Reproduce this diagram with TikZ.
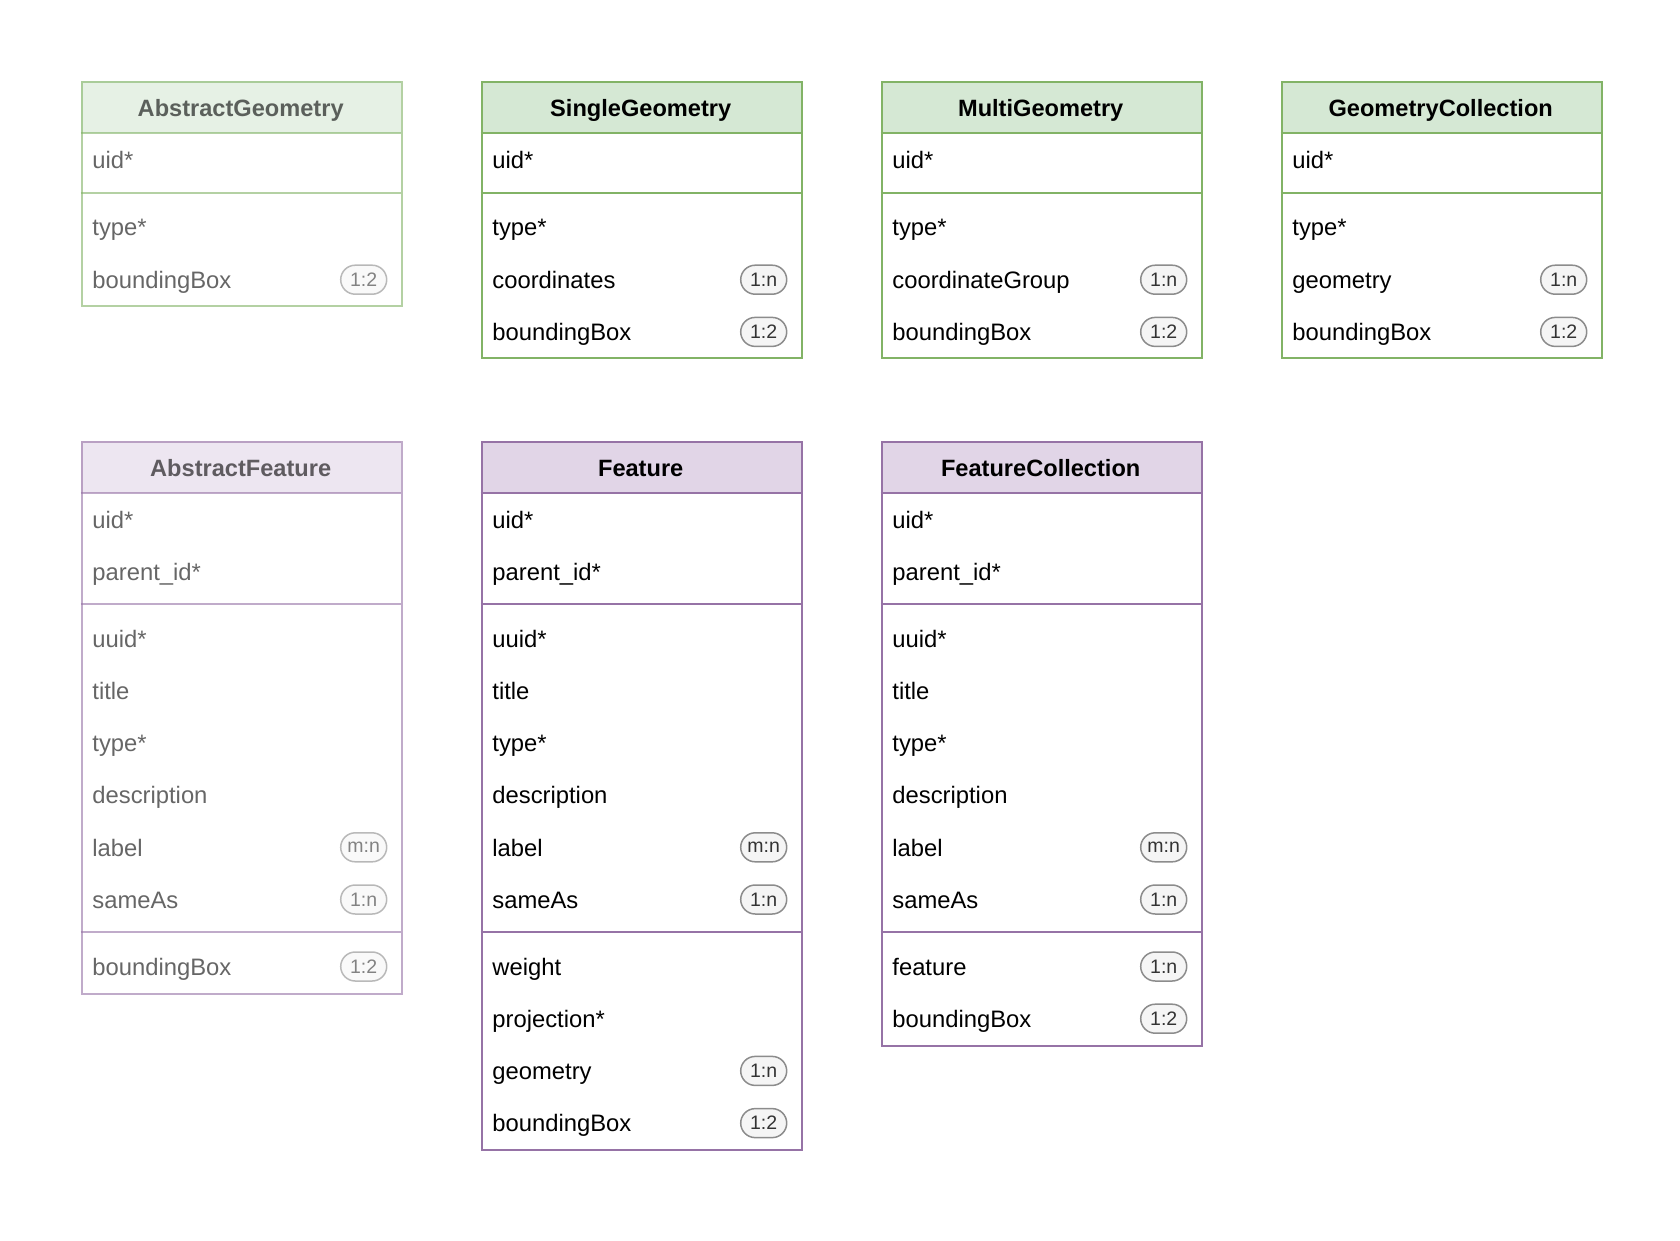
\documentclass[tikz,border=0pt]{standalone}
\usepackage{fontspec}
\setmainfont{Liberation Sans}
\definecolor{gfill}{HTML}{D5E8D4}
\definecolor{gdraw}{HTML}{82B366}
\definecolor{pfill}{HTML}{E1D5E7}
\definecolor{pdraw}{HTML}{9673A6}
\definecolor{bfill}{HTML}{F5F5F5}
\definecolor{bdraw}{HTML}{8C8C8C}
\definecolor{btext}{HTML}{333333}
\tikzset{
  tbltitle/.style={font=\fontsize{23.6}{28}\selectfont\bfseries, anchor=base, inner sep=0pt},
  tblrow/.style={font=\fontsize{23.8}{28}\selectfont, anchor=base west, inner sep=0pt},
  badge/.style={draw=bdraw, fill=bfill, line width=1.5pt, rounded corners=14.5pt,
    minimum width=46pt, minimum height=29pt, inner sep=0pt,
    font=\fontsize{19.5}{22}\selectfont, text=btext},
  tblframe/.style={draw=#1, line width=2pt, inner sep=0pt, anchor=north west},
  tblsep/.style={draw=#1, line width=2pt},
}
% #1 id, #2 x, #3 top, #4 bottom, #5 colour prefix (g/p), #6 title
\newcommand\erbox[6]{%
  \fill[#5fill] (#2,#3) rectangle (#2+320,#3+52);
  \draw[tblsep=#5draw] (#2,#3+52) -- (#2+320,#3+52);
  \node[tblframe=#5draw, minimum width=320pt, minimum height=#4pt-#3pt] (#1) at (#2,#3) {};
  \node[tbltitle] (#1-t) at (#2+160,#3+35) {#6};
}
\newcommand\ersep[4]{\draw[tblsep=#4draw] (#2,#3) -- (#2+320,#3);}
\newcommand\errows[3]{%
  \foreach \t/\yy [count=\i] in {#3} {\node[tblrow] (#1-r\i) at (#2+11.5,\yy+8.8) {\t};}%
}
\newcommand\erbadge[4]{\node[badge] (#1) at (#2+283,#3) {#4};}
\begin{document}
\begin{tikzpicture}[x=1pt,y=-1pt]
\useasboundingbox (0,0) rectangle (1680,1240);
% ---------------- geometry row ----------------
\begin{scope}[opacity=0.6]
\erbox{ag}{80.7}{81}{305}{g}{AbstractGeometry}
\ersep{ag}{80.7}{192.7}{g}
\errows{ag}{80.7}{uid*/160, type*/227, boundingBox/279.7}
\erbadge{ag-b1}{80.7}{279.7}{1:2}
\end{scope}

\erbox{sg}{480.7}{81}{356.5}{g}{SingleGeometry}
\ersep{sg}{480.7}{192.7}{g}
\errows{sg}{480.7}{uid*/160, type*/227, coordinates/279.7, boundingBox/331.9}
\erbadge{sg-b1}{480.7}{279.7}{1:n}
\erbadge{sg-b2}{480.7}{331.9}{1:2}

\erbox{mg}{880.7}{81}{356.5}{g}{MultiGeometry}
\ersep{mg}{880.7}{192.7}{g}
\errows{mg}{880.7}{uid*/160, type*/227, coordinateGroup/279.7, boundingBox/331.9}
\erbadge{mg-b1}{880.7}{279.7}{1:n}
\erbadge{mg-b2}{880.7}{331.9}{1:2}

\erbox{gc}{1280.7}{81}{356.5}{g}{GeometryCollection}
\ersep{gc}{1280.7}{192.7}{g}
\errows{gc}{1280.7}{uid*/160, type*/227, geometry/279.7, boundingBox/331.9}
\erbadge{gc-b1}{1280.7}{279.7}{1:n}
\erbadge{gc-b2}{1280.7}{331.9}{1:2}

% ---------------- feature row ----------------
\begin{scope}[opacity=0.6]
\erbox{af}{80.7}{441}{992.7}{p}{AbstractFeature}
\ersep{af}{80.7}{604.3}{p}
\ersep{af}{80.7}{932.3}{p}
\errows{af}{80.7}{uid*/520, parent\_id*/571.5, uuid*/638.5, title/690.7, type*/742.9, description/795.1, label/847.3, sameAs/899.5, boundingBox/966.5}
\erbadge{af-b1}{80.7}{847.3}{m:n}
\erbadge{af-b2}{80.7}{899.5}{1:n}
\erbadge{af-b3}{80.7}{966.5}{1:2}
\end{scope}

\erbox{ft}{480.7}{441}{1149}{p}{Feature}
\ersep{ft}{480.7}{604.3}{p}
\ersep{ft}{480.7}{932.3}{p}
\errows{ft}{480.7}{uid*/520, parent\_id*/571.5, uuid*/638.5, title/690.7, type*/742.9, description/795.1, label/847.3, sameAs/899.5, weight/966.5, projection*/1018.7, geometry/1070.9, boundingBox/1123.1}
\erbadge{ft-b1}{480.7}{847.3}{m:n}
\erbadge{ft-b2}{480.7}{899.5}{1:n}
\erbadge{ft-b3}{480.7}{1070.9}{1:n}
\erbadge{ft-b4}{480.7}{1123.1}{1:2}

\erbox{fc}{880.7}{441}{1045}{p}{FeatureCollection}
\ersep{fc}{880.7}{604.3}{p}
\ersep{fc}{880.7}{932.3}{p}
\errows{fc}{880.7}{uid*/520, parent\_id*/571.5, uuid*/638.5, title/690.7, type*/742.9, description/795.1, label/847.3, sameAs/899.5, feature/966.5, boundingBox/1018.7}
\erbadge{fc-b1}{880.7}{847.3}{m:n}
\erbadge{fc-b2}{880.7}{899.5}{1:n}
\erbadge{fc-b3}{880.7}{966.5}{1:n}
\erbadge{fc-b4}{880.7}{1018.7}{1:2}
\end{tikzpicture}
\end{document}
